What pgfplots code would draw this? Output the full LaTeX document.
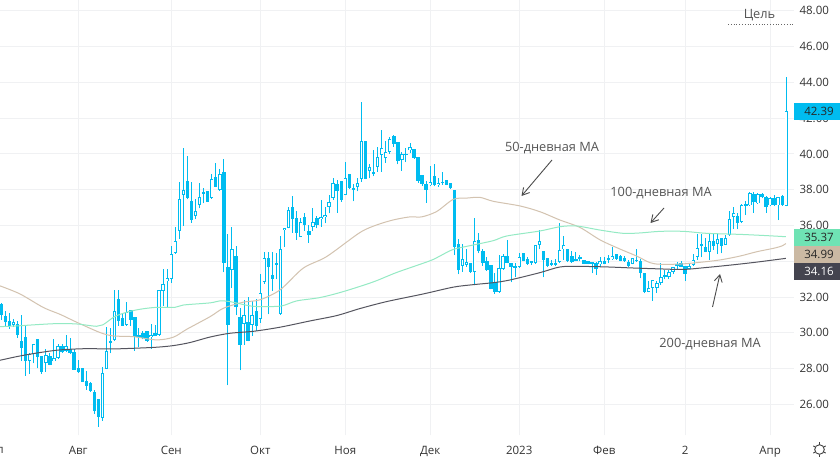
\documentclass[border=0pt]{standalone}
\usepackage{fontspec}
\setmainfont{Open Sans}
\usepackage{pgfplots}
\usepackage{pgfplotstable}
\usetikzlibrary{arrows.meta}
\pgfplotsset{compat=1.18}
\definecolor{cand}{HTML}{00BCF0}
\definecolor{gridc}{HTML}{F0F1F3}
\definecolor{mafifty}{HTML}{D3C3B0}
\definecolor{mahund}{HTML}{94EAC4}
\definecolor{matwo}{HTML}{55555F}
\definecolor{boxdark}{HTML}{44444F}
\definecolor{boxgreen}{HTML}{6FE3B4}
\definecolor{boxtan}{HTML}{CBB9A3}
\definecolor{txt}{HTML}{555555}
\pgfplotstableread{
k o c h l
0 31.61 31.00 31.69 30.72
1 30.94 30.62 31.22 30.38
2 30.66 30.40 31.13 30.21
3 30.44 30.60 30.77 30.31
4 30.49 29.88 30.64 29.71
5 29.52 29.15 30.98 28.44
6 29.75 28.44 30.42 27.60
7 28.44 28.83 28.89 27.70
8 28.80 29.36 29.36 28.29
9 29.63 28.63 29.63 28.01
10 28.68 27.83 28.68 27.71
11 28.33 28.74 29.08 27.83
12 28.68 28.22 28.85 28.18
13 28.40 28.57 29.63 28.40
14 28.57 29.24 29.37 28.55
15 29.24 28.95 29.37 28.89
16 28.96 29.24 29.86 28.93
17 29.08 28.85 29.69 28.81
18 28.91 27.94 29.08 27.92
19 28.01 27.83 28.46 27.77
20 28.01 27.27 28.01 27.27
21 27.29 27.04 27.85 26.82
22 27.17 26.76 27.27 26.71
23 26.67 25.65 26.78 25.46
24 26.28 25.27 26.28 24.75
25 25.22 27.73 28.07 25.07
26 27.96 28.96 30.31 27.96
27 29.52 29.47 30.25 28.85
28 29.60 31.20 32.39 29.54
29 31.87 30.68 32.39 30.38
30 30.81 30.40 31.03 30.40
31 30.42 31.14 31.70 30.40
32 31.26 30.70 31.26 30.38
33 30.86 29.78 30.90 29.00
34 29.86 29.78 30.25 29.19
35 29.97 29.71 30.10 29.63
36 30.08 29.56 30.12 29.50
37 29.75 29.86 30.47 29.11
38 29.97 29.84 30.44 29.84
39 29.86 32.37 32.37 29.84
40 32.32 32.71 33.55 31.50
41 32.88 33.05 33.55 31.37
42 33.01 34.39 34.86 32.77
43 34.44 35.11 35.90 34.41
44 35.67 37.46 38.41 35.25
45 37.69 37.97 40.32 35.97
46 38.47 37.52 39.87 37.46
47 37.35 36.29 38.41 36.16
48 36.51 36.79 37.46 36.35
49 37.13 37.58 38.36 36.96
50 37.86 37.80 38.08 37.24
51 37.91 37.33 37.91 37.33
52 37.52 38.58 38.86 37.48
53 38.70 38.17 39.48 38.14
54 37.99 38.86 39.14 37.95
55 38.98 33.89 39.70 33.37
56 33.66 30.44 35.53 27.05
57 33.50 34.67 35.90 32.49
58 34.28 31.46 34.86 30.98
59 30.87 29.34 31.37 27.89
60 30.48 30.98 31.84 29.32
61 30.59 29.51 31.99 29.51
62 30.42 30.98 31.80 29.82
63 31.20 30.35 31.87 30.12
64 30.76 32.21 33.29 30.57
65 32.82 34.17 34.50 32.73
66 34.17 33.66 34.50 31.02
67 33.22 33.03 34.50 32.36
68 33.91 33.81 34.45 32.99
69 31.04 34.67 35.42 31.00
70 35.73 35.84 35.84 34.82
71 35.88 36.85 37.02 35.83
72 37.02 36.35 37.63 35.60
73 36.40 35.60 36.79 35.19
74 35.38 36.18 36.40 35.36
75 36.46 36.01 36.68 35.71
76 35.68 35.49 36.05 35.04
77 35.90 36.18 36.96 35.71
78 36.40 36.05 36.52 35.83
79 36.35 36.46 37.41 35.94
80 36.46 36.57 37.02 36.11
81 37.02 37.30 37.69 36.68
82 37.52 38.36 38.64 37.43
83 38.31 37.95 38.53 36.72
84 38.47 37.41 38.47 37.32
85 37.69 38.64 39.54 37.69
86 38.86 38.08 38.86 38.06
87 38.06 38.03 38.31 37.34
88 38.14 38.36 38.64 37.90
89 38.62 40.71 42.89 38.45
90 40.71 38.62 40.75 38.58
91 39.03 39.26 39.42 38.64
92 38.98 38.92 40.21 38.75
93 39.26 39.81 40.41 38.99
94 39.93 40.32 41.32 39.01
95 39.76 40.09 40.71 39.52
96 40.09 40.82 40.97 40.00
97 40.99 40.58 41.05 40.41
98 40.65 39.59 40.65 39.42
99 39.65 39.98 40.09 39.07
100 39.99 39.97 40.32 39.54
101 40.21 40.37 40.60 40.04
102 40.26 39.80 40.26 39.74
103 39.81 38.47 39.81 38.40
104 38.81 38.31 38.81 38.23
105 38.31 37.97 38.47 37.28
106 38.25 38.42 39.31 38.19
107 38.75 38.25 39.42 38.19
108 38.25 38.36 38.64 38.17
109 38.42 38.40 38.98 38.27
110 38.53 38.29 38.53 38.25
111 38.36 38.08 38.36 38.04
112 37.97 34.80 37.97 34.34
113 34.95 33.50 35.23 33.27
114 33.75 34.10 34.96 33.41
115 33.81 33.94 34.66 33.69
116 33.88 33.41 33.88 33.36
117 33.38 35.11 36.42 32.65
118 35.17 34.59 35.56 34.44
119 34.55 33.88 34.66 33.75
120 33.99 33.51 34.22 33.47
121 33.77 32.46 33.77 32.43
122 32.82 32.30 33.32 32.17
123 32.26 33.60 34.33 32.24
124 33.55 34.27 34.38 33.51
125 34.27 33.92 35.19 33.88
126 33.88 33.66 33.88 32.82
127 33.68 33.66 33.88 33.10
128 33.66 34.22 34.44 33.62
129 34.44 34.03 34.44 34.01
130 34.10 33.84 34.22 33.81
131 33.99 33.94 34.03 33.79
132 33.88 34.89 34.89 33.84
133 34.89 35.11 35.73 34.66
134 34.55 34.05 34.55 33.10
135 34.16 33.75 34.16 33.66
136 33.86 33.82 34.07 33.75
137 33.88 33.86 34.10 33.73
138 33.94 34.61 36.12 33.92
139 34.66 34.89 35.39 34.07
140 34.66 33.99 34.66 33.94
141 34.27 33.97 34.55 33.92
142 34.12 34.05 34.50 34.01
143 34.22 34.10 34.33 33.99
144 34.05 33.86 34.05 33.84
145 33.99 33.86 33.99 33.84
146 33.94 33.82 33.94 33.32
147 33.88 33.56 33.94 33.23
148 33.86 33.99 34.22 33.66
149 34.03 33.86 34.22 33.84
150 34.07 34.16 34.33 33.88
151 34.12 34.29 34.78 34.07
152 34.38 34.10 34.38 34.09
153 34.27 34.03 34.33 33.99
154 34.16 33.99 34.29 33.96
155 33.94 33.75 34.07 33.69
156 33.86 34.16 34.16 33.82
157 34.07 34.05 34.66 33.96
158 33.99 33.32 34.10 33.04
159 33.32 32.26 33.32 32.20
160 32.29 32.48 32.89 32.26
161 32.48 32.93 32.93 31.79
162 32.48 32.80 32.91 32.24
163 32.76 33.10 33.88 32.69
164 33.13 33.21 33.51 32.98
165 33.10 33.39 33.51 33.02
166 33.38 33.65 33.65 33.28
167 33.75 33.82 33.97 33.56
168 33.88 33.69 34.01 33.69
169 33.75 33.28 33.75 32.89
170 33.56 33.75 33.88 33.54
171 33.77 34.05 34.40 33.73
172 34.23 34.74 35.52 34.07
173 34.94 34.92 35.52 34.21
174 34.79 34.53 35.28 34.49
175 34.53 35.11 35.56 34.07
176 35.11 34.87 35.56 34.63
177 34.98 35.24 35.56 34.40
178 35.28 34.87 35.28 34.44
179 34.92 35.28 35.46 34.90
180 35.46 36.34 36.80 35.43
181 36.49 36.67 37.01 35.80
182 36.51 36.15 36.67 35.78
183 36.19 37.12 37.18 36.13
184 37.18 37.07 37.35 36.58
185 37.12 37.79 37.85 37.08
186 37.74 37.29 37.85 36.71
187 37.23 37.74 37.79 37.20
188 37.74 37.57 37.79 37.51
189 37.59 37.01 37.64 36.71
190 37.12 37.51 37.57 37.07
191 37.51 37.12 37.68 37.08
192 37.12 37.57 37.57 36.30
193 37.63 37.12 37.68 37.10
194 37.08 42.38 44.32 37.07
}\candles
\pgfplotstableread{
k v
-0.33 32.62
4.6 32.17
10.4 31.41
14.5 31.03
18.6 30.59
24.4 30.01
27.7 29.82
32.6 29.78
38.4 29.60
42.5 29.75
45.8 30.19
51.6 30.90
54.9 31.37
59.8 31.71
63.9 31.84
68.9 32.40
74.6 33.61
80.4 34.26
88.6 35.60
92.8 36.03
96.9 36.31
101 36.48
103.9 36.48
107.6 36.78
111.7 37.46
115 37.53
118.3 37.57
121.6 37.35
128.2 37.09
133.1 36.77
138.1 36.30
143 35.89
148 35.19
152.9 34.68
157 34.29
160.3 33.92
162.8 33.83
167.7 33.84
171.9 33.92
177.6 34.07
182.6 34.29
186.7 34.53
190.8 34.72
192.9 34.85
193.9 34.99
}\mafifty
\pgfplotstableread{
k v
-0.33 30.34
3.8 30.38
7.9 30.44
13.7 30.51
18.6 30.49
23.5 30.36
25.1 30.44
28 30.90
30.9 31.14
34.2 31.31
38.3 31.42
42.9 31.42
45 31.55
51.6 31.67
54 31.78
56.5 31.74
61.5 31.50
64.8 31.46
69.3 31.50
73 31.78
78.8 31.97
84.5 32.30
91.9 32.84
97.7 33.37
105.9 34.02
108.4 34.29
111.7 34.66
116.7 34.91
121.6 35.15
124.9 35.41
133.1 35.69
138.1 35.93
142.2 35.97
148 35.74
153.7 35.56
157.8 35.58
162.8 35.67
168.6 35.67
174.3 35.56
182.6 35.50
189.2 35.43
193.9 35.37
}\mahund
\pgfplotstableread{
k v
-0.33 28.46
4.6 28.70
9.5 28.89
14.5 29.04
21.1 29.11
26.9 29.09
32.6 29.13
38.4 29.19
42.5 29.28
46.6 29.45
51.6 29.76
56.5 29.97
62.3 30.08
68.9 30.31
76.3 30.66
82.9 30.96
88.6 31.35
95.2 31.74
104.3 32.17
111.7 32.55
116.7 32.69
121.6 32.80
125.7 32.95
133.1 33.36
138.1 33.68
143 33.71
149.6 33.68
156.2 33.62
162.8 33.57
168.6 33.54
174.3 33.65
180.9 33.80
186.7 33.95
193.9 34.16
}\matwo
\begin{document}
\begin{tikzpicture}
\clip (0,-25pt) rectangle (840pt,435pt);
\fill[white] (0,-25pt) rectangle (840pt,435pt);
\begin{axis}[
  at={(0,0)}, anchor=south west, scale only axis,
  width=794pt, height=435pt,
  xmin=-0.33, xmax=195.91, ymin=24.28, ymax=48.61,
  axis line style={draw=none},
  tick style={draw=none},
  grid=major, grid style={gridc, line width=0.9pt},
  ytick={26,28,...,48},
  xtick={19,42,64,85,106,128,149,169,190},
  xticklabels={Авг,Сен,Окт,Ноя,Дек,2023,Фев,2,Апр},
  yticklabel pos=right,
  ticklabel style={font=\fontsize{11.5}{13}\selectfont, text=black!80},
  yticklabel style={/pgf/number format/.cd,fixed,fixed zerofill,precision=2,assume math mode=true},
  yticklabel shift=2pt,
  xticklabel shift=8pt,
  clip=true,
]
% wicks
\addplot[draw=none, mark=none, forget plot,
  error bars/.cd, y dir=both, y explicit, error mark=none,
  error bar style={draw=cand, line width=0.95pt}]
  table[x=k, y=l, y error plus expr=\thisrow{h}-\thisrow{l}, y error minus expr=0] {\candles};
% bodies
\addplot[draw=none, mark=none, forget plot,
  error bars/.cd, y dir=both, y explicit, error mark=none,
  error bar style={draw=cand, line width=3.4pt}]
  table[x=k, y expr={0.5*(\thisrow{o}+\thisrow{c})}, y error expr={max(0.5*abs(\thisrow{o}-\thisrow{c}),0.035)}] {\candles};
% hollow interiors
\addplot[draw=none, mark=none, forget plot,
  restrict expr to domain={\thisrow{c}-\thisrow{o}}{0.0001:100},
  error bars/.cd, y dir=both, y explicit, error mark=none,
  error bar style={draw=white, line width=1.7pt}]
  table[x=k, y expr={0.5*(\thisrow{o}+\thisrow{c})}, y error expr={max(0.5*(\thisrow{c}-\thisrow{o})-0.05,0)}] {\candles};
\addplot[mafifty, line width=1pt, mark=none, smooth] table[x=k,y=v] {\mafifty};
\addplot[mahund, line width=1pt, mark=none, smooth] table[x=k,y=v] {\mahund};
\addplot[matwo, line width=1pt, mark=none, smooth] table[x=k,y=v] {\matwo};
\end{axis}
\begin{scope}[x=1pt,y=-1pt,shift={(0,435pt)}]
\tikzset{lab/.style={font=\fontsize{12.8}{15}\selectfont, text=txt, inner sep=0pt}, arr/.style={draw=black!70, line width=0.9pt, ->, >={Straight Barb[length=7pt,width=8pt]}}}
\node[font=\fontsize{11.5}{13}\selectfont, text=black!80, anchor=east, inner sep=0pt] at (4,449.5) {Июл};
\node[lab] at (552,148) {50-дневная MA};
\node[lab] at (661,193) {100-дневная MA};
\node[lab] at (710,344) {200-дневная MA};
\node[lab] at (759.5,15) {Цель};
\draw[black!60, line width=0.8pt, dotted] (728,24) -- (793,24);
\draw[arr] (552,160) -- (521.5,196);
\draw[arr] (664,208) -- (650.5,223);
\draw[arr] (712.5,307) -- (720,274);
\fill[cand] (794,103) rectangle (840,120);
\fill[boxgreen] (794,229) rectangle (840,246);
\fill[boxtan] (794,246) rectangle (840,263);
\fill[boxdark] (794,263) rectangle (840,280);
\tikzset{pl/.style={font=\fontsize{11.5}{13}\selectfont, inner sep=0pt}}
\node[pl, text=black!85] at (819,111.5) {42.39};
\node[pl, text=black!85] at (819,237.5) {35.37};
\node[pl, text=black!85] at (819,254.5) {34.99};
\node[pl, text=white] at (819,271.5) {34.16};
\draw[black!75, line width=0.9pt] (819.5,449.5) circle (4.8);
\foreach \a in {30,90,...,330} \draw[black!75, line width=0.9pt] (819.5,449.5) ++(\a:5) -- ++(\a:2.2);
\end{scope}
\end{tikzpicture}
\end{document}
